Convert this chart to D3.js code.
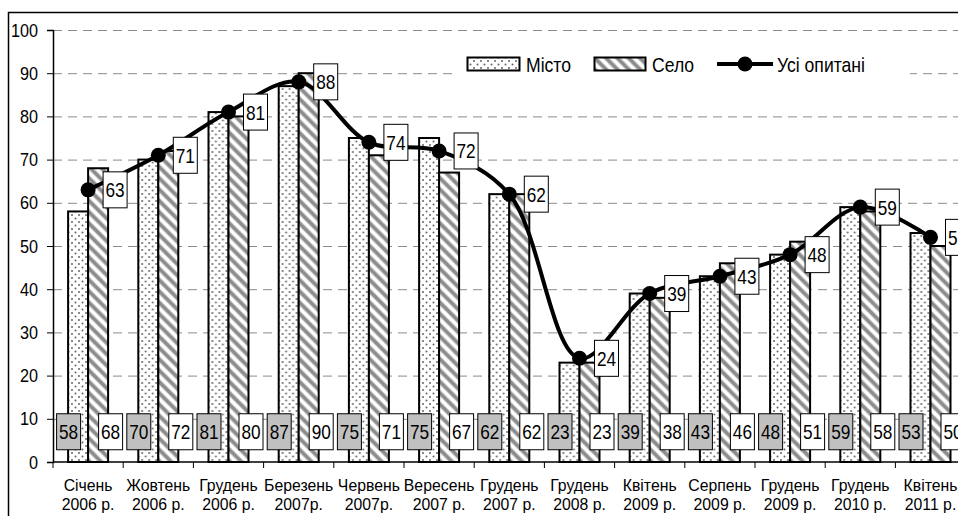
<!DOCTYPE html>
<html><head><meta charset="utf-8">
<script src="https://cdn.jsdelivr.net/npm/d3@7"></script>
<style>
html,body{margin:0;padding:0;background:#fff;}
svg{display:block;}
text{font-family:"Liberation Sans Narrow","Arial Narrow","Liberation Sans",Arial,sans-serif;fill:#000;}
</style></head>
<body>
<script>
const categories = [["Січень","2006 р."],["Жовтень","2006 р."],["Грудень","2006 р."],["Березень","2007р."],["Червень","2007р."],["Вересень","2007 р."],["Грудень","2007 р."],["Грудень","2008 р."],["Квітень","2009 р."],["Серпень","2009 р."],["Грудень","2009 р."],["Грудень","2010 р."],["Квітень","2011 р."]];
const misto = [58,70,81,87,75,75,62,23,39,43,48,59,53];
const selo  = [68,72,80,90,71,67,62,23,38,46,51,58,50];
const usi   = [63,71,81,88,74,72,62,24,39,43,48,59,52];
const yTicks = [0,10,20,30,40,50,60,70,80,90,100];
const seriesNames = ["Місто","Село","Усі опитані"];

const W = 958, H = 516;
const svg = d3.select("body").append("svg").attr("width", W).attr("height", H);
const defs = svg.append("defs");

// condensed text helper (no narrow font available)
function ntext(g, x, y, str, size, anchor, sx){
  return g.append("text").attr("transform",`translate(${x},${y}) scale(${sx},1)`)
    .attr("text-anchor",anchor).attr("font-size",size).text(str);
}

const dots = defs.append("pattern").attr("id","dots").attr("patternUnits","userSpaceOnUse")
  .attr("width",7).attr("height",7);
dots.append("rect").attr("width",7).attr("height",7).attr("fill","#fff");
dots.append("circle").attr("cx",1.5).attr("cy",1.5).attr("r",1).attr("fill","#666");
dots.append("circle").attr("cx",5).attr("cy",5).attr("r",1).attr("fill","#666");

const stripes = defs.append("pattern").attr("id","stripes").attr("patternUnits","userSpaceOnUse")
  .attr("width",8).attr("height",8).attr("patternTransform","rotate(-45)");
stripes.append("rect").attr("width",8).attr("height",8).attr("fill","#fff");
stripes.append("rect").attr("x",1).attr("width",5).attr("height",8).attr("fill","#c8c8c8");
stripes.append("rect").attr("x",2).attr("width",3).attr("height",8).attr("fill","#8c8c8c");

// outer frame
svg.append("rect").attr("x",8.5).attr("y",12.5).attr("width",W).attr("height",H)
  .attr("fill","none").attr("stroke","#000").attr("stroke-width",1.5);

const x0 = 53, y0 = 462, yTop = 30, step = 70.2;
const x = d3.scaleBand().domain(d3.range(categories.length)).range([x0, x0 + step*categories.length]).padding(0);
const x1 = d3.scaleBand().domain([0,1]).range([0, x.bandwidth()]).paddingInner(0).paddingOuter(0.755);
const y = d3.scaleLinear().domain([0,100]).range([y0, yTop]);

// grid
svg.append("g").selectAll("line").data(yTicks.filter(d=>d>0)).join("line")
  .attr("x1",x0).attr("x2",W).attr("y1",d=>y(d)+0.5).attr("y2",d=>y(d)+0.5)
  .attr("stroke","#8a8a8a").attr("stroke-width",1).attr("stroke-dasharray","9,6");

// y axis
const yAxis = svg.append("g").attr("transform",`translate(${x0},0)`)
  .call(d3.axisLeft(y).tickValues(yTicks).tickSize(6).tickFormat(""));
yAxis.select(".domain").attr("stroke","#000").attr("stroke-width",1.5);
yAxis.selectAll(".tick line").attr("stroke","#000");
const yl = svg.append("g");
yTicks.forEach(t=>ntext(yl, 38, y(t)+6.5, t, 18, "end", 0.9));

// bars
const groups = svg.append("g").selectAll("g").data(categories.map((c,i)=>i)).join("g")
  .attr("transform",i=>`translate(${x(i)},0)`);
groups.append("rect").attr("x",x1(0)).attr("width",x1.bandwidth())
  .attr("y",i=>y(misto[i])).attr("height",i=>y0-y(misto[i]))
  .attr("fill","url(#dots)").attr("stroke","#000").attr("stroke-width",2);
groups.append("rect").attr("x",x1(1)).attr("width",x1.bandwidth())
  .attr("y",i=>y(selo[i])).attr("height",i=>y0-y(selo[i]))
  .attr("fill","url(#stripes)").attr("stroke","#000").attr("stroke-width",2);

// x axis
const xAxis = svg.append("g").attr("transform",`translate(0,${y0})`);
xAxis.append("line").attr("x1",x0).attr("x2",W).attr("stroke","#000").attr("stroke-width",1.5);
xAxis.selectAll("line.t").data(d3.range(categories.length+1)).join("line").attr("class","t")
  .attr("x1",i=>x0+i*x.step()).attr("x2",i=>x0+i*x.step()).attr("y1",0).attr("y2",6)
  .attr("stroke","#000");
const cx = i => x(i) + x.bandwidth()/2;
categories.forEach((d,i)=>{
  ntext(xAxis, cx(i), 29, d[0], 17, "middle", 0.93);
  ntext(xAxis, cx(i), 48, d[1], 17, "middle", 0.93);
});

// value label boxes
function labelBox(g, xc, yc, txt, fill){
  const w = 24, h = 36;
  g.append("rect").attr("x",xc-w/2).attr("y",yc-h/2).attr("width",w).attr("height",h)
    .attr("fill",fill).attr("stroke","#000").attr("stroke-width",1);
  ntext(g, xc, yc+7.5, txt, 21, "middle", 0.82);
}
const lab = svg.append("g");
misto.forEach((v,i)=>labelBox(lab, x(i)+x1(0)+x1.bandwidth()/2-9.5, y(7), v, "#c0c0c0"));
selo.forEach((v,i)=>labelBox(lab, x(i)+x1(1)+x1.bandwidth()/2+12.5, y(7), v, "#fff"));

// line
const line = d3.line().x((d,i)=>cx(i)).y(d=>y(d)).curve(d3.curveCatmullRom.alpha(0.5));
svg.append("path").attr("d",line(usi)).attr("fill","none").attr("stroke","#000").attr("stroke-width",4);
svg.append("g").selectAll("circle").data(usi).join("circle")
  .attr("cx",(d,i)=>cx(i)).attr("cy",d=>y(d)).attr("r",7.5).attr("fill","#000");
const ll = svg.append("g");
usi.forEach((v,i)=>labelBox(ll, cx(i)+27, y(v), v, "#fff"));

// legend
const lg = svg.append("g");
lg.append("rect").attr("x",455).attr("y",50).attr("width",455).attr("height",34).attr("fill","#fff");
lg.append("rect").attr("x",467.5).attr("y",57.5).attr("width",52).attr("height",13)
  .attr("fill","url(#dots)").attr("stroke","#000").attr("stroke-width",2);
ntext(lg, 526, 72, seriesNames[0], 20, "start", 0.88);
lg.append("rect").attr("x",594.5).attr("y",57.5).attr("width",51).attr("height",13)
  .attr("fill","url(#stripes)").attr("stroke","#000").attr("stroke-width",2);
ntext(lg, 652, 72, seriesNames[1], 20, "start", 0.88);
lg.append("line").attr("x1",717).attr("x2",773).attr("y1",64).attr("y2",64).attr("stroke","#000").attr("stroke-width",4);
lg.append("circle").attr("cx",745).attr("cy",64).attr("r",7.5).attr("fill","#000");
ntext(lg, 777, 72, seriesNames[2], 20, "start", 0.88);
</script>
</body></html>
